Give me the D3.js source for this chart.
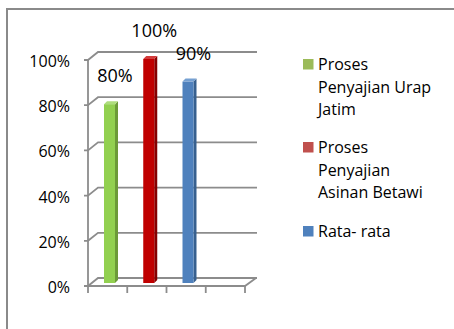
<!DOCTYPE html>
<html>
<head>
<meta charset="utf-8">
<script src="https://cdn.jsdelivr.net/npm/d3@7"></script>
<style>
  body { margin: 0; background: #fff; }
  text { font-family: "Open Sans", sans-serif; fill: #000; }
</style>
</head>
<body>
<svg id="chart" width="454" height="329"></svg>
<script>
// chart data
var categories = ["c1", "c2", "c3", "c4"];
var seriesNames = ["Proses Penyajian Urap Jatim", "Proses Penyajian Asinan Betawi", "Rata- rata"];
var values = [0.8, 1.0, 0.9];
var valueLabels = ["80%", "100%", "90%"];
var yTicks = [0, 0.2, 0.4, 0.6, 0.8, 1.0];
var legendLines = [
    ["Proses", "Penyajian Urap", "Jatim"],
    ["Proses", "Penyajian", "Asinan Betawi"],
    ["Rata- rata"]
];

var barColors = [
    { front: "#92d050", side: "#6c9a38", top: "#aedd7c" },
    { front: "#c00000", side: "#850000", top: "#d23a3a" },
    { front: "#4f81bd", side: "#37608f", top: "#75a0d2" }
];
var legendColors = ["#9bbb59", "#c0504d", "#4f81bd"];

var svg = d3.select("#chart");
var depth = { dx: 10, dy: -8 };
var grid = "#8c8c8c";

var y = d3.scaleLinear().domain([0, 1]).range([286, 60]);
var x = d3.scaleBand().domain(categories).range([88, 245]);

// outer frame
svg.append("path")
    .attr("d", "M7,329 L7,9 L454,9")
    .attr("fill", "none")
    .attr("stroke", "#8a8a8a")
    .attr("stroke-width", 2);

// side wall diagonals + back wall gridlines
yTicks.forEach(function(t) {
    var yy = y(t);
    svg.append("path")
        .attr("d", "M84," + yy + " L88," + yy + " L" + (88 + depth.dx) + "," + (yy + depth.dy) +
            " L257," + (yy + depth.dy))
        .attr("fill", "none")
        .attr("stroke", grid)
        .attr("stroke-width", 1.8);
});

// left axis
svg.append("line")
    .attr("x1", 88).attr("x2", 88)
    .attr("y1", y(1)).attr("y2", y(0))
    .attr("stroke", grid).attr("stroke-width", 1.8);

// floor front edge
svg.append("path")
    .attr("d", "M88," + y(0) + " L245," + y(0) + " L256," + (y(0) + depth.dy))
    .attr("fill", "none")
    .attr("stroke", grid)
    .attr("stroke-width", 1.8);

// category ticks under the floor
var tickXs = categories.map(function(c) { return x(c); }).concat([x.range()[1]]);
svg.selectAll(".xtick")
    .data(tickXs)
    .enter().append("line")
    .attr("x1", function(d) { return d; })
    .attr("x2", function(d) { return d; })
    .attr("y1", y(0))
    .attr("y2", y(0) + 7)
    .attr("stroke", grid)
    .attr("stroke-width", 1.8);

// y tick labels
svg.selectAll(".ylab")
    .data(yTicks)
    .enter().append("text")
    .attr("x", 70)
    .attr("y", function(d) { return y(d) + 7; })
    .attr("text-anchor", "end")
    .style("font-size", "16px")
    .text(function(d) { return Math.round(d * 100) + "%"; });

// bars (3d look: front, side, top)
var bw = 11, bd = 3;
values.forEach(function(v, i) {
    var x0 = x(categories[i]) + 16;
    var yTop = y(v) - 1;
    var yBot = y(0) - 3;
    var c = barColors[i];
    svg.append("path")
        .attr("d", "M" + (x0 + bw) + "," + yTop + " L" + (x0 + bw + bd) + "," + (yTop - bd) +
            " L" + (x0 + bw + bd) + "," + (yBot - bd) + " L" + (x0 + bw) + "," + yBot + "Z")
        .attr("fill", c.side);
    svg.append("path")
        .attr("d", "M" + x0 + "," + yTop + " L" + (x0 + bd) + "," + (yTop - bd) +
            " L" + (x0 + bw + bd) + "," + (yTop - bd) + " L" + (x0 + bw) + "," + yTop + "Z")
        .attr("fill", c.top);
    svg.append("rect")
        .attr("x", x0).attr("y", yTop)
        .attr("width", bw).attr("height", yBot - yTop)
        .attr("fill", c.front);

    // value label
    svg.append("text")
        .attr("x", x(categories[i]) + 27)
        .attr("y", y(v) - 23)
        .attr("text-anchor", "middle")
        .style("font-size", "18px")
        .text(valueLabels[i]);
});

// legend
var legendStarts = [70, 153, 237];
legendLines.forEach(function(lines, i) {
    var by = legendStarts[i];
    svg.append("rect")
        .attr("x", 303).attr("y", by - 11)
        .attr("width", 10.5).attr("height", 10.5)
        .attr("fill", legendColors[i]);
    lines.forEach(function(l, j) {
        svg.append("text")
            .attr("x", 318)
            .attr("y", by + j * 22.5)
            .style("font-size", "16px")
            .text(l);
    });
});
</script>
</body>
</html>
